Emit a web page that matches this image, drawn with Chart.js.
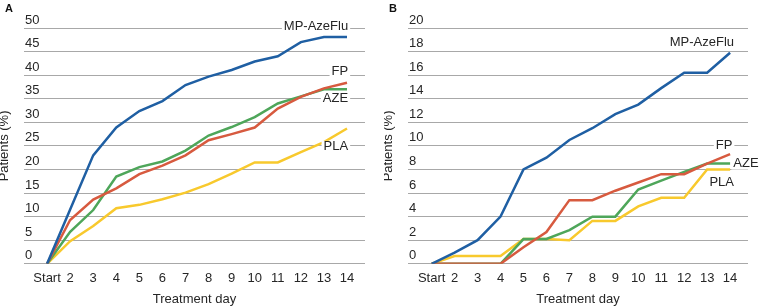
<!DOCTYPE html>
<html>
<head>
<meta charset="utf-8">
<script src="https://cdn.jsdelivr.net/npm/chart.js@4"></script>
<style>
  body { margin: 0; background: #fff; }
  #wrap { position: relative; width: 759px; height: 307px; }
  #chartA { position: absolute; left: 0; top: 0; }
  #chartB { position: absolute; left: 384px; top: 0; }
</style>
</head>
<body>
<div id="wrap">
  <canvas id="chartA" width="384" height="307"></canvas>
  <canvas id="chartB" width="375" height="307"></canvas>
</div>
<script>
const dayLabels = ['Start', '2', '3', '4', '5', '6', '7', '8', '9', '10', '11', '12', '13', '14'];
const seriesNames = ['MP-AzeFlu', 'FP', 'AZE', 'PLA'];

// panel A
const aMpAzeFlu = [0, 11.5, 23.0, 28.9, 32.4, 34.5, 37.9, 39.7, 41.1, 42.9, 44.0, 47.0, 48.1, 48.1];
const aFp = [0, 9.3, 13.6, 16.0, 19.0, 20.8, 23.0, 26.2, 27.5, 28.9, 32.9, 35.4, 37.2, 38.4];
const aAze = [0, 6.8, 11.4, 18.5, 20.5, 21.7, 24.0, 27.2, 29.0, 31.1, 34.0, 35.5, 37.0, 37.0];
const aPla = [0, 4.8, 8.0, 11.8, 12.5, 13.7, 15.1, 16.9, 19.1, 21.5, 21.5, 23.7, 25.8, 28.7];

// panel B
const bMpAzeFlu = [0, 0.94, 2.0, 4.0, 8.0, 9.0, 10.5, 11.5, 12.7, 13.5, 14.9, 16.2, 16.2, 17.9];
const bFp = [0, 0, 0, 0, 1.4, 2.7, 5.4, 5.4, 6.2, 6.9, 7.6, 7.6, 8.5, 9.3];
const bAze = [0, 0, 0, 0, 2.1, 2.1, 2.85, 4.0, 4.0, 6.3, 7.05, 7.8, 8.5, 8.5];
const bPla = [0, 0.66, 0.66, 0.66, 2.1, 2.1, 2.0, 3.64, 3.64, 4.87, 5.6, 5.6, 8.0, 8.0];

const colors = ['#1f5fa3', '#d75a3f', '#4ea65a', '#f8c92d'];
const family = '"Liberation Sans", Arial, sans-serif';
const textColor = '#262626';

const seriesLabelPlugin = {
  id: 'seriesLabels',
  afterDraw(chart, args, opts) {
    const ctx = chart.ctx;
    const x = chart.scales.x, y = chart.scales.y;
    ctx.save();
    ctx.font = '13px ' + family;
    ctx.textBaseline = 'middle';
    ctx.textAlign = 'left';
    opts.items.forEach(it => {
      const px = x.getPixelForValue(it.x);
      const py = y.getPixelForValue(it.y);
      const w = ctx.measureText(it.text).width;
      const left = it.align === 'left' ? px : px - w;
      ctx.fillStyle = '#fff';
      ctx.fillRect(left - 2, py - 6, w + 4, 12);
      ctx.fillStyle = textColor;
      ctx.fillText(it.text, left, py);
    });
    // panel letter
    ctx.font = 'bold 11px ' + family;
    ctx.textBaseline = 'top';
    ctx.fillStyle = '#111';
    ctx.fillText(opts.letter, 5, 3);
    ctx.restore();
  }
};

function makeChart(id, series, yMax, yStep, xMin, padRight, letter, items) {
  const datasets = series.map((arr, k) => ({
    label: seriesNames[k],
    data: arr.map((v, i) => ({x: i, y: v})),
    borderColor: colors[k],
    backgroundColor: colors[k],
    borderWidth: 2.5,
    pointRadius: 0,
    tension: 0,
    fill: false
  }));
  return new Chart(document.getElementById(id), {
    type: 'line',
    data: {datasets: datasets},
    options: {
      responsive: false,
      animation: false,
      layout: {padding: {top: 28, right: padRight, left: 0, bottom: 0}},
      plugins: {
        legend: {display: false},
        tooltip: {enabled: false},
        seriesLabels: {letter: letter, items: items}
      },
      scales: {
        x: {
          type: 'linear',
          min: xMin,
          max: 13.78,
          afterBuildTicks(s) { s.ticks = dayLabels.map((_, i) => ({value: i})); },
          ticks: {
            callback: v => dayLabels[v],
            autoSkip: false,
            maxRotation: 0,
            padding: 7,
            color: textColor,
            font: {size: 13, family: family}
          },
          grid: {display: false, drawTicks: false},
          border: {display: false},
          title: {
            display: true,
            text: 'Treatment day',
            color: textColor,
            font: {size: 13, family: family},
            padding: {top: -2, bottom: 0}
          }
        },
        y: {
          min: 0,
          max: yMax,
          ticks: {
            stepSize: yStep,
            mirror: true,
            padding: 1,
            labelOffset: -8,
            color: textColor,
            font: {size: 13, family: family}
          },
          grid: {color: '#a8a8a8', drawTicks: false},
          border: {display: false},
          title: {
            display: true,
            text: 'Patients (%)',
            color: textColor,
            font: {size: 13, family: family},
            padding: {top: -3, bottom: 0}
          },
          afterFit(s) { s.width = 24; }
        }
      }
    },
    plugins: [seriesLabelPlugin]
  });
}

makeChart('chartA', [aMpAzeFlu, aFp, aAze, aPla], 50, 5, -1, 19, 'A', [
  {text: 'MP-AzeFlu', x: 13.05, y: 50.3, align: 'right'},
  {text: 'FP', x: 13.05, y: 40.7, align: 'right'},
  {text: 'AZE', x: 13.05, y: 35, align: 'right'},
  {text: 'PLA', x: 13.05, y: 24.8, align: 'right'}
]);

makeChart('chartB', [bMpAzeFlu, bFp, bAze, bPla], 20, 2, -1.03, 11, 'B', [
  {text: 'MP-AzeFlu', x: 13.17, y: 18.8, align: 'right'},
  {text: 'FP', x: 13.1, y: 10.0, align: 'right'},
  {text: 'AZE', x: 13.14, y: 8.5, align: 'left'},
  {text: 'PLA', x: 13.17, y: 6.9, align: 'right'}
]);
</script>
</body>
</html>
